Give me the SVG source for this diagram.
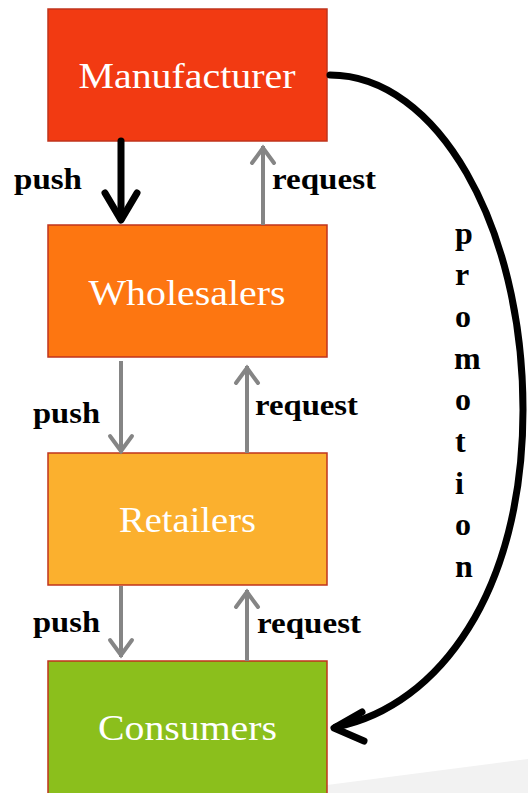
<svg xmlns="http://www.w3.org/2000/svg" width="528" height="793" viewBox="0 0 528 793">
  <style>
    .box { stroke: #C0341D; stroke-width: 1.5; }
    .boxlabel { font-family: "Liberation Serif", "Times New Roman", serif; font-size: 36px; fill: #FFFFFF; text-anchor: middle; }
    .lbl { font-family: "Liberation Serif", "Times New Roman", serif; font-size: 30px; font-weight: bold; fill: #000000; }
    .promo { font-family: "Liberation Serif", "Times New Roman", serif; font-size: 32px; font-weight: bold; fill: #000000; }
    .gray { stroke: #858585; stroke-width: 4; fill: none; }
    .blk { stroke: #000000; stroke-width: 7; fill: none; stroke-linecap: round; stroke-linejoin: round; }
  </style>
  <defs>
    <marker id="ag" markerUnits="userSpaceOnUse" viewBox="-22 -14 26 28" refX="0" refY="0" markerWidth="26" markerHeight="28" orient="auto" overflow="visible">
      <path d="M-17,-11 L-2,0 L-17,11" fill="none" stroke="#858585" stroke-width="4" stroke-linecap="round" stroke-linejoin="miter"/>
    </marker>
  </defs>
  <rect width="528" height="793" fill="#FFFFFF"/>
  <polygon points="327,785 528,759 528,793 327,793" fill="#F2F2F2"/>

  <g id="manufacturer">
    <rect class="box" x="48" y="9" width="279" height="132" fill="#F23A12"/>
    <text class="boxlabel" x="187" y="88" textLength="217" lengthAdjust="spacingAndGlyphs">Manufacturer</text>
  </g>
  <g id="wholesalers">
    <rect class="box" x="48" y="225" width="279" height="132" fill="#FD7611"/>
    <text class="boxlabel" x="187" y="305" textLength="197" lengthAdjust="spacingAndGlyphs">Wholesalers</text>
  </g>
  <g id="retailers">
    <rect class="box" x="48" y="453" width="279" height="132" fill="#FBB02E"/>
    <text class="boxlabel" x="187.5" y="532" textLength="137" lengthAdjust="spacingAndGlyphs">Retailers</text>
  </g>
  <g id="consumers">
    <rect class="box" x="48" y="661" width="279" height="140" fill="#8BBF1C"/>
    <text class="boxlabel" x="187.5" y="740" textLength="179" lengthAdjust="spacingAndGlyphs">Consumers</text>
  </g>

  <g id="connectors">
    <!-- push Manufacturer -> Wholesalers -->
    <path class="blk" d="M121,141 L121,219" stroke-linecap="butt"/>
    <path class="blk" d="M105,193 L121,220 L137,193"/>
    <!-- request Wholesalers -> Manufacturer -->
    <path class="gray" d="M263,225 L263,146" marker-end="url(#ag)"/>
    <!-- push Wholesalers -> Retailers -->
    <path class="gray" d="M121,361 L121,453" marker-end="url(#ag)"/>
    <!-- request Retailers -> Wholesalers -->
    <path class="gray" d="M247,453 L247,366" marker-end="url(#ag)"/>
    <!-- push Retailers -> Consumers -->
    <path class="gray" d="M121,586 L121,657" marker-end="url(#ag)"/>
    <!-- request Consumers -> Retailers -->
    <path class="gray" d="M247,661 L247,590" marker-end="url(#ag)"/>
    <!-- promotion Manufacturer -> Consumers -->
    <path class="blk" d="M330,75 C437,75 523,225 523,410 C523,590 440,706 336,727" stroke-linecap="butt"/>
    <path class="blk" d="M362,712 L334,728 L364,741"/>
  </g>

  <g id="labels">
    <text class="lbl" x="14" y="189" textLength="68" lengthAdjust="spacingAndGlyphs">push</text>
    <text class="lbl" x="272" y="189" textLength="104" lengthAdjust="spacingAndGlyphs">request</text>
    <text class="lbl" x="33" y="423" textLength="67" lengthAdjust="spacingAndGlyphs">push</text>
    <text class="lbl" x="255" y="415" textLength="103" lengthAdjust="spacingAndGlyphs">request</text>
    <text class="lbl" x="33" y="632" textLength="67" lengthAdjust="spacingAndGlyphs">push</text>
    <text class="lbl" x="257" y="633" textLength="104" lengthAdjust="spacingAndGlyphs">request</text>
  </g>

  <g id="promotion">
    <text class="promo" x="455" y="243.5">p</text>
    <text class="promo" x="455" y="285">r</text>
    <text class="promo" x="455" y="327">o</text>
    <text class="promo" x="454" y="368.5">m</text>
    <text class="promo" x="455" y="410">o</text>
    <text class="promo" x="455" y="452">t</text>
    <text class="promo" x="455" y="493.5">i</text>
    <text class="promo" x="455" y="535">o</text>
    <text class="promo" x="455" y="577">n</text>
  </g>
</svg>
